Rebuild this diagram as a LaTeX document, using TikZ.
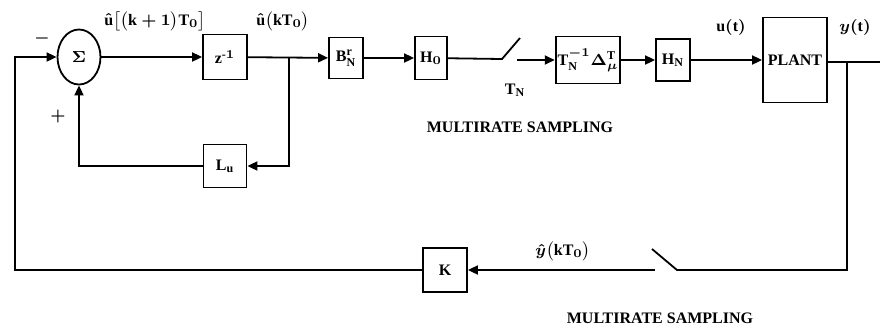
\documentclass[tikz,border=0pt]{standalone}
\usepackage{fontspec}
\setmainfont{Liberation Serif}
\usepackage{amsmath}
\usetikzlibrary{positioning,arrows.meta,shapes.geometric}

\begin{document}
\begin{tikzpicture}[
  x=0.5pt, y=-0.5pt,
  blk/.style={rectangle, draw=black, line width=0.9pt, fill=white,
              inner sep=1pt, align=center, font=\footnotesize\bfseries\boldmath},
  sumn/.style={ellipse, draw=black, line width=0.9pt, inner sep=0pt,
               minimum width=21.5pt, minimum height=27.5pt, font=\footnotesize\bfseries\boldmath},
  wire/.style={line width=0.9pt},
  arr/.style={wire, -{Triangle[length=5pt, width=4.5pt]}},
  lbl/.style={font=\footnotesize\bfseries\boldmath, inner sep=1pt},
]
 \useasboundingbox (0,0) rectangle (880,334);

 % Forward path
 \node[sumn] (sum) at (79,57) {$\Sigma$};
 \node[blk, minimum width=22pt, minimum height=22.5pt] (zinv) at (225,57) {$\mathrm{z}^{\text{-}1}$};
 \node[blk, minimum width=17pt, minimum height=20.5pt] (Bn) at (346,58) {$\mathrm{B}_{\mathrm{N}}^{\mathrm{r}}$};
 \node[blk, minimum width=16pt, minimum height=21.5pt] (H0) at (431,58) {$\mathrm{H}_0$};
 \node[blk, minimum width=28pt, minimum height=23.5pt] (Tn) at (588,60) {$\mathrm{T}_{\mathrm{N}}^{-1}\Delta_{\mu}^{\mathrm{T}}$};
 \node[blk, minimum width=17pt, minimum height=21pt] (Hn) at (673,60) {$\mathrm{H}_{\mathrm{N}}$};
 \node[blk, minimum width=32pt, minimum height=42.5pt] (plant) at (795,60) {PLANT};

 \coordinate (jz) at (289,57);
 \coordinate (sw1a) at (502,59);
 \coordinate (sw1t) at (520,38);
 \coordinate (sw1b) at (517,60);
 \coordinate (yout) at (880,62);
 \coordinate (jy) at (847,62);

 \draw[arr] (sum) -- (zinv);
 \draw[arr] (zinv) -- (Bn);
 \draw[arr] (Bn) -- (H0);
 \draw[wire] (H0) -- (sw1a) -- (sw1t);
 \draw[arr] (sw1b) -- (Tn);
 \draw[arr] (Tn) -- (Hn);
 \draw[arr] (Hn) -- (plant);
 \draw[wire] (plant.east |- yout) -- (yout);

 % Inner loop
 \node[blk, minimum width=21.5pt, minimum height=21.5pt] (Lu) at (225,166) {$\mathrm{L}_{\mathrm{u}}$};
 \draw[arr] (jz) |- (Lu);
 \draw[arr] (Lu) -| (sum);

 % Output feedback
 \node[blk, minimum width=22pt, minimum height=22pt] (K) at (445,270) {K};
 \coordinate (sw2a) at (677,270);
 \coordinate (sw2t) at (652,249);
 \coordinate (sw2b) at (655,270);
 \draw[wire] (jy) |- (sw2a) -- (sw2t);
 \draw[arr] (sw2b) -- (K);
 \draw[arr] (K) -| (15,57) -- (sum);

 % Labels
 \node[lbl] at (155,21) {$\hat{\mathrm{u}}\bigl[\bigl(\mathrm{k}+1\bigr)\mathrm{T}_0\bigr]$};
 \node[lbl] at (283,21) {$\hat{\mathrm{u}}\bigl(\mathrm{k}\mathrm{T}_0\bigr)$};
 \node[lbl] at (42,38) {$-$};
 \node[lbl] at (58,116) {$+$};
 \node[lbl] at (515,90) {$\mathrm{T}_{\mathrm{N}}$};
 \node[lbl] at (731,27) {$\mathrm{u}(\mathrm{t})$};
 \node[lbl] at (855,27) {$y(\mathrm{t})$};
 \node[lbl] at (563,251) {$\hat{y}\bigl(\mathrm{k}\mathrm{T}_0\bigr)$};
 \node[lbl] at (520,127) {MULTIRATE SAMPLING};
 \node[lbl] at (660,318) {MULTIRATE SAMPLING};
\end{tikzpicture}
\end{document}
